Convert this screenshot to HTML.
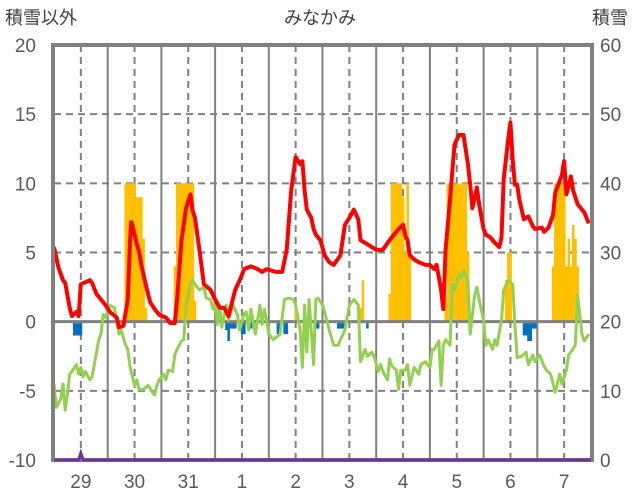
<!DOCTYPE html>
<html><head><meta charset="utf-8">
<style>
html,body{margin:0;padding:0;background:#fff;}
svg{display:block;font-family:"Liberation Sans","Noto Sans CJK JP",sans-serif;}
</style></head>
<body>
<svg id="chart" width="636" height="501" viewBox="0 0 636 501">
  <text x="320" y="24" text-anchor="middle" font-size="18" fill="#404040">みなかみ</text>
  <text x="5" y="24" font-size="18" fill="#404040">積雪以外</text>
  <text x="628" y="24" text-anchor="end" font-size="18" fill="#404040">積雪</text>
  <g id="grid"></g>
  <g id="bars"></g>
  <g id="neg"></g>
  <g id="lines"></g>
  <g id="frame"></g>
  <g id="ticks"></g>
</svg>
<script>
const dayLabels = ["29","30","31","1","2","3","4","5","6","7"];
const leftTicks = [20,15,10,5,0,-5,-10];
const rightTicks = [60,50,40,30,20,10,0];

const redHours = [0,2,4,5,7,8,10,11,12,16,17,19,21,23,25,28,29,31,33,34,34.5,35,37,38,39,41,43,45,47,50,52,54,55,57,59,61,62,63,65,67,70,72,74,76,78,81,83,85,88,91,93,95,99,102,104,106,108,110,111,112,113,115,116,117,119,121,123,125,128,130,132,134,136,137,140,142,144,147,150,152,154,156,157,158,159,161,163,166,168,170,171,173,174,175,177,179,181,183,185,186,187,189,190,192,193,195,197,199,200,201,203,204,205,206,207,208,210,212,214,215,218,219,221,223,224,227,228,229,231,232,234,236,237,239];
const redVals = [5.4,3.9,3.0,2.8,1.0,0.4,0.7,0.4,2.7,3.0,2.8,2.0,1.6,1.2,0.7,0.3,-0.4,-0.3,1.6,5.9,7.2,7.0,5.6,5.1,4.1,2.7,1.4,0.9,0.5,0.3,-0.1,-0.1,1.6,5.9,8.2,9.2,8.0,7.5,5.2,2.7,2.3,1.6,1.0,1.0,0.4,2.3,3.0,3.8,4.0,3.8,3.6,3.8,3.6,3.6,5.2,9.5,11.9,11.4,11.6,9.5,8.1,7.5,6.7,6.3,5.9,4.8,4.3,4.1,4.8,7.0,7.5,8.1,7.4,5.9,5.6,5.4,5.2,5.2,5.9,6.3,6.7,7.0,6.2,5.9,4.8,4.5,4.3,4.1,4.1,3.8,4.1,2.3,0.9,5.2,8.8,12.8,13.5,13.5,11.4,9.9,8.2,9.7,8.5,6.7,6.3,6.1,5.7,5.4,6.1,10.3,13.2,14.4,11.7,9.9,9.9,8.8,7.4,7.6,6.9,6.7,6.8,6.5,6.8,7.7,9.3,10.6,11.6,9.2,10.5,9.5,8.5,8.1,7.9,7.1];

const greenHours = [0,1,3,4,5,6,7,8,10,11,12,13,14,16,17,18,20,21,22,23,25,27,28,29,30,32,33,34,36,37,38,40,42,44,45,46,47,49,50,51,53,54,55,57,58,59,61,62,63,65,67,68,70,71,72,73,74,75,77,78,80,82,83,85,86,87,88,90,92,93,94,95,96,98,101,103,105,107,108,110,111,112,113,114,116,117,118,120,121,123,125,127,128,130,132,134,135,136,137,139,140,142,143,145,146,147,149,150,151,153,154,155,157,158,159,161,163,164,166,168,169,170,172,173,174,175,177,178,179,181,182,183,185,186,188,189,190,192,193,194,196,197,198,200,201,203,205,206,207,209,211,212,214,215,217,219,220,222,224,226,227,229,230,231,233,234,236,237,239];
const greenVals = [-4.5,-6.2,-5.6,-4.5,-6.4,-5.3,-3.8,-3.6,-3.1,-3.8,-3.3,-4.0,-3.6,-4.2,-4.0,-3.1,-1.3,-0.9,0.5,0.3,1.2,1.0,0.1,-0.9,-0.6,-1.7,-2.0,-3.3,-4.6,-4.2,-4.9,-4.9,-4.6,-5.1,-5.3,-4.6,-4.2,-3.8,-4.2,-3.5,-3.6,-2.4,-2.0,-1.4,-1.3,1.2,2.7,3.0,2.7,2.3,2.5,1.7,1.6,0.9,1.4,-0.2,1.2,-0.4,1.2,0.1,1.2,0.5,-0.6,0.6,0.7,-0.6,0.9,-0.9,1.2,-0.2,0.9,0.1,-0.9,-1.3,-0.9,1.6,1.7,1.6,1.2,-0.6,-3.3,1.2,-2.2,1.6,-3.1,1.6,1.7,1.2,0.7,-0.6,-1.7,-1.7,-1.3,-0.6,1.2,1.6,1.4,1.2,-2.9,-2.0,-2.5,-2.2,-2.5,-3.6,-3.1,-3.6,-4.2,-2.7,-3.2,-3.5,-4.9,-3.5,-3.5,-3.1,-4.6,-3.3,-3.8,-3.1,-2.9,-3.3,-2.0,-2.0,-1.4,-4.6,-1.7,-1.3,-1.7,2.7,2.3,3.4,3.2,3.7,3.0,-0.9,1.9,2.5,1.6,0.1,-1.7,-1.3,-2.0,-1.3,-1.7,0.1,2.3,3.0,2.7,-0.2,-2.6,-2.5,-2.2,-3.1,-2.4,-2.9,-2.4,-3.2,-3.5,-3.8,-5.1,-3.8,-4.5,-3.5,-2.4,-2.2,-1.7,1.9,-0.9,-1.4,-0.9];

const snowHours = [32,33,34,35,36,37,38,39,40,41,54,55,56,57,58,59,60,61,62,63,108,137,138,150,151,152,153,154,155,156,157,158,159,175,176,177,178,179,180,181,182,183,184,185,202,203,204,223,224,225,226,227,228,229,230,231,232,233,234];
const snowVals = [40,40,40,40,40,38,38,38,32,22,28,40,40,40,40,40,40,40,40,23,22,22,26,24,40,40,40,40,40,38,30,40,30,24,40,40,40,40,40,40,40,40,40,30,26,30,30,28,40,40,40,40,40,28,32,28,34,32,28];

const precipHours = [9,10,11,12,77,78,79,80,81,84,85,88,100,101,103,104,117,118,127,128,129,130,140,210,211,212,213,214,215];
const precipVals = [-1.0,-1.0,-1.0,-1.0,-0.6,-1.4,-0.5,-0.5,-0.5,-0.9,-0.9,-0.5,-0.9,-0.9,-0.9,-0.9,-0.5,-0.5,-0.5,-0.5,-0.5,-0.5,-0.5,-1.0,-1.0,-1.4,-1.4,-0.5,-0.5];

const depthHours = [0,11,12,13,240];
const depthVals = [0,0,1,0,0];

const X0=54, X1=591, Y0=45, Y1=460, H=240, BAR_BASE=20;
const NS="http://www.w3.org/2000/svg";
function xS(h){return X0+h*(X1-X0)/H;}
function yL(v){return Y1-(v+10)*(Y1-Y0)/30;}
function yR(v){return Y1-v*(Y1-Y0)/60;}
function mk(tag,attrs,parent){const e=document.createElementNS(NS,tag);for(const k in attrs)e.setAttribute(k,attrs[k]);parent.appendChild(e);return e;}
const grid=document.getElementById('grid');
for(let k=1;k<10;k++){
  const x=xS(k*24);
  const l=mk('line',{x1:x,x2:x,y1:Y0,y2:Y1,stroke:'#808080','stroke-width':2},grid);
  
  
}
for(let k=0;k<10;k++){
  const x=xS(k*24+12);
  const l=mk('line',{x1:x,x2:x,y1:Y0,y2:Y1,stroke:'#808080','stroke-width':2,'stroke-dasharray':'7,5'},grid);
  
  
}
leftTicks.forEach(v=>{
  if(v===20||v===-10||v===0)return;
  const y=yL(v);
  const l=mk('line',{x1:X0,x2:X1,y1:y,y2:y,stroke:'#808080','stroke-width':2,'stroke-dasharray':'7,5'},grid);
  
  
});
const bars=document.getElementById('bars');
const bw=(X1-X0)/H;
snowHours.forEach((h,i)=>{
  const y=yR(snowVals[i]);
  const r=mk('rect',{x:xS(h)-bw/2,y:y,width:bw+0.3,height:Math.max(0,yR(BAR_BASE)-y),fill:'#ffc000'},bars);
  
  
});
const z=mk('line',{x1:X0,x2:X1,y1:yL(0),y2:yL(0),stroke:'#808080','stroke-width':3},grid);
bars.after(z);


const neg=document.getElementById('neg');
precipHours.forEach((h,i)=>{
  const y0=yL(0)+1.5;
  const r=mk('rect',{x:xS(h)-bw/2,y:y0,width:bw+0.3,height:Math.max(0,yL(precipVals[i])-y0),fill:'#0070c0'},neg);
  
  
});
const lines=document.getElementById('lines');
function path(hs,vs,ys){return hs.map((h,i)=>(i?'L':'M')+xS(h).toFixed(1)+','+ys(vs[i]).toFixed(1)).join('');}
const g=mk('path',{d:path(greenHours,greenVals,yL),fill:'none',stroke:'#92d050','stroke-width':3,'stroke-linejoin':'round'},lines);


const r=mk('path',{d:path(redHours,redVals,yL),fill:'none',stroke:'#ff0000','stroke-width':4,'stroke-linejoin':'round'},lines);


const frame=document.getElementById('frame');
const fr=mk('rect',{x:X0-1,y:Y0,width:X1-X0+2,height:Y1-Y0,fill:'none',stroke:'#808080','stroke-width':4},frame);


const p=mk('path',{d:path(depthHours,depthVals,yR),fill:'none',stroke:'#7030a0','stroke-width':3},frame);


const ticks=document.getElementById('ticks');
leftTicks.forEach(v=>{
  const t=mk('text',{x:36,y:yL(v)+7,'text-anchor':'end','font-size':19,fill:'#595959'},ticks);
  t.textContent=v;
  
  
});
rightTicks.forEach(v=>{
  const t=mk('text',{x:600,y:yR(v)+7,'font-size':19,fill:'#595959'},ticks);
  t.textContent=v;
  
  
});
dayLabels.forEach((d,k)=>{
  const t=mk('text',{x:xS(k*24+12),y:488,'text-anchor':'middle','font-size':19,fill:'#595959'},ticks);
  t.textContent=d;
  
  
});
</script>
</body></html>
